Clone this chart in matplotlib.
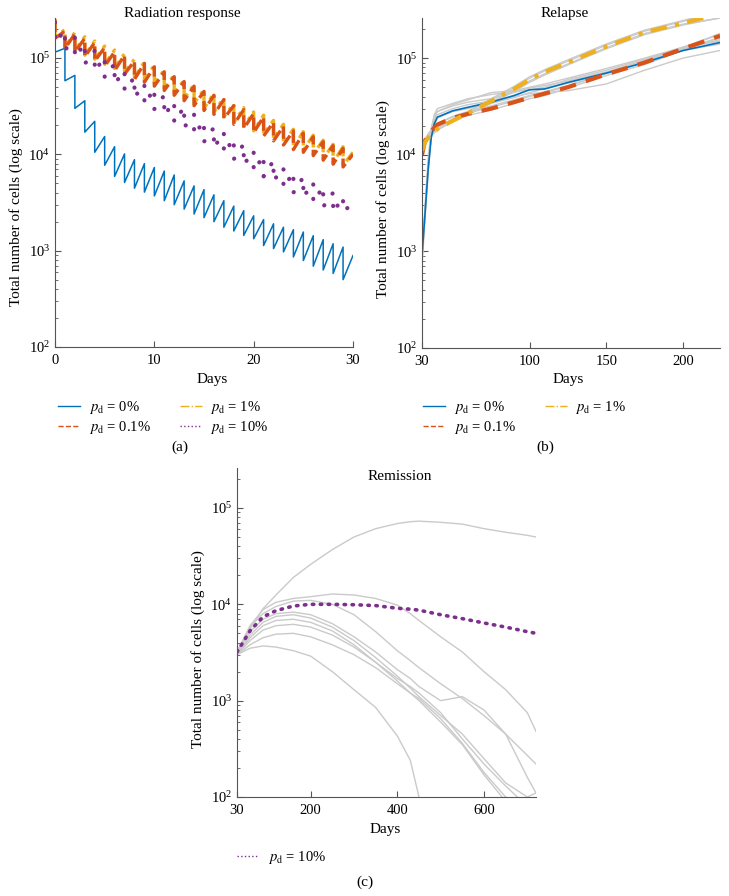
import numpy as np
import matplotlib
matplotlib.use('Agg')
import matplotlib.pyplot as plt
from matplotlib.lines import Line2D
from matplotlib.ticker import LogLocator, LogFormatterMathtext, NullFormatter, FixedLocator

plt.rcParams['font.family'] = ['Liberation Serif', 'DejaVu Serif']
plt.rcParams['mathtext.fontset'] = 'stix'

BLUE = '#0072BD'
ORANGE = '#D95319'
YELLOW = '#EDB120'
PURPLE = '#7E2F8E'
GRAY = '#CACACA'

# ---------------- Panel (a): radiation response ----------------
rad_days = list(range(0, 31))
# value just before the daily dose (days 0..29) + final value at day 30
pd0_pre = [1.64e5, 1.26e5, 6.6e4, 3.6e4, 2.2e4, 1.53e4, 1.2e4, 1.01e4, 8.8e3, 8.0e3,
           7.3e3, 6.7e3, 6.1e3, 5.3e3, 4.7e3, 4.3e3, 3.8e3, 3.3e3, 2.9e3, 2.6e3,
           2.3e3, 2.1e3, 1.9e3, 1.75e3, 1.65e3, 1.56e3, 1.43e3, 1.3e3, 1.18e3, 1.09e3, 8.9e2]
# value just after the daily dose (days 0..29)
pd0_post = [1.15e5, 5.8e4, 3.0e4, 1.7e4, 1.05e4, 7.7e3, 5.9e3, 5.1e3, 4.45e3, 4.05e3,
            3.7e3, 3.3e3, 3.0e3, 2.7e3, 2.4e3, 2.2e3, 2.0e3, 1.75e3, 1.6e3, 1.44e3,
            1.33e3, 1.13e3, 1.05e3, 9.7e2, 8.6e2, 7.9e2, 6.9e2, 6.3e2, 5.8e2, 5.0e2]

pd01_pre = [2.5e5, 1.9e5, 1.78e5, 1.6e5, 1.45e5, 1.28e5, 1.16e5, 1.07e5, 9.3e4, 8.8e4,
            8.1e4, 7.2e4, 6.4e4, 5.7e4, 5.1e4, 4.5e4, 4.1e4, 3.7e4, 3.2e4, 2.9e4,
            2.65e4, 2.45e4, 2.15e4, 1.95e4, 1.75e4, 1.65e4, 1.52e4, 1.35e4, 1.23e4, 1.15e4, 1.0e4]
pd01_post = [1.6e5, 1.25e5, 1.15e5, 1.03e5, 9.3e4, 8.2e4, 7.4e4, 6.8e4, 6.0e4, 5.6e4,
             5.1e4, 4.6e4, 4.1e4, 3.6e4, 3.2e4, 2.85e4, 2.6e4, 2.35e4, 2.05e4, 1.85e4,
             1.68e4, 1.55e4, 1.38e4, 1.25e4, 1.12e4, 1.05e4, 9.7e3, 8.7e3, 7.9e3, 7.4e3]

pd1_pre = [2.55e5, 1.97e5, 1.84e5, 1.66e5, 1.5e5, 1.33e5, 1.21e5, 1.11e5, 9.7e4, 9.1e4,
           8.4e4, 7.5e4, 6.7e4, 5.9e4, 5.3e4, 4.7e4, 4.3e4, 3.85e4, 3.35e4, 3.05e4,
           2.75e4, 2.55e4, 2.25e4, 2.05e4, 1.82e4, 1.72e4, 1.58e4, 1.4e4, 1.27e4, 1.2e4, 1.05e4]
pd1_post = [1.65e5, 1.3e5, 1.2e5, 1.07e5, 9.7e4, 8.6e4, 7.8e4, 7.1e4, 6.3e4, 5.9e4,
            5.4e4, 4.8e4, 4.3e4, 3.8e4, 3.4e4, 3.0e4, 2.75e4, 2.45e4, 2.15e4, 1.95e4,
            1.75e4, 1.62e4, 1.45e4, 1.3e4, 1.17e4, 1.1e4, 1.01e4, 9.0e3, 8.2e3, 7.7e3]

pd10_pre = [2.34e5, 1.92e5, 1.64e5, 1.4e5, 1.19e5, 1.02e5, 8.7e4, 7.4e4, 6.3e4, 5.4e4,
            4.8e4, 4.1e4, 3.5e4, 3.1e4, 2.6e4, 2.2e4, 1.9e4, 1.7e4, 1.45e4, 1.28e4,
            1.09e4, 9.7e3, 8.6e3, 7.3e3, 6.5e3, 5.8e3, 5.1e3, 4.6e3, 4.0e3, 3.6e3, 3.0e3]
pd10_post = [1.45e5, 1.2e5, 1.02e5, 8.7e4, 7.3e4, 6.3e4, 5.4e4, 4.6e4, 3.9e4, 3.3e4,
             2.95e4, 2.55e4, 2.15e4, 1.9e4, 1.6e4, 1.35e4, 1.17e4, 1.03e4, 8.9e3, 7.8e3,
             6.7e3, 5.9e3, 5.3e3, 4.5e3, 4.0e3, 3.6e3, 3.2e3, 2.85e3, 2.5e3, 2.6e3]

# ---------------- Panel (b): relapse ----------------
relapse_days = [30, 32, 34, 36, 38, 40, 50, 60, 75, 90, 100, 110, 125, 150, 175, 200, 224]
rel_pd0 = [9e2, 2.5e3, 7.0e3, 1.5e4, 2.1e4, 2.45e4, 2.85e4, 3.1e4, 3.5e4, 4.1e4, 4.7e4, 4.8e4, 5.6e4, 7.0e4, 9.0e4, 1.2e5, 1.45e5]
rel_pd01 = [1.0e4, 1.4e4, 1.6e4, 1.75e4, 1.9e4, 2.05e4, 2.4e4, 2.65e4, 3.0e4, 3.5e4, 3.9e4, 4.3e4, 5.0e4, 6.8e4, 9.0e4, 1.25e5, 1.7e5]
rel_pd1 = [1.1e4, 1.35e4, 1.5e4, 1.62e4, 1.72e4, 1.85e4, 2.25e4, 2.7e4, 3.6e4, 4.8e4, 6.0e4, 7.2e4, 9.0e4, 1.32e5, 1.85e5, 2.3e5, 2.9e5]
rel_runs = [
    [8e2, 3.0e3, 9.0e3, 1.9e4, 2.5e4, 2.8e4, 3.2e4, 3.5e4, 3.8e4, 4.4e4, 4.9e4, 5.2e4, 5.8e4, 7.2e4, 9.5e4, 1.25e5, 1.55e5],
    [7e2, 2.2e3, 6.5e3, 1.6e4, 2.4e4, 2.8e4, 3.3e4, 3.7e4, 4.4e4, 4.6e4, 5.0e4, 5.4e4, 6.2e4, 7.8e4, 1.0e5, 1.3e5, 1.6e5],
    [9e2, 2.8e3, 8.0e3, 1.7e4, 2.3e4, 2.6e4, 3.0e4, 3.3e4, 3.6e4, 4.0e4, 4.3e4, 4.4e4, 4.6e4, 5.4e4, 7.5e4, 1.0e5, 1.2e5],
    [1e3, 2.6e3, 7.5e3, 1.5e4, 2.0e4, 2.4e4, 2.8e4, 3.0e4, 3.4e4, 3.9e4, 4.4e4, 4.8e4, 5.5e4, 7.0e4, 9.2e4, 1.2e5, 1.4e5],
    [8e2, 2.4e3, 7.8e3, 1.8e4, 2.6e4, 3.0e4, 3.4e4, 3.8e4, 4.2e4, 4.5e4, 4.7e4, 5.0e4, 6.0e4, 7.5e4, 9.8e4, 1.28e5, 1.5e5],
    [1.0e4, 1.45e4, 1.65e4, 1.8e4, 1.95e4, 2.1e4, 2.5e4, 2.8e4, 3.2e4, 3.7e4, 4.1e4, 4.5e4, 5.2e4, 7.0e4, 9.4e4, 1.3e5, 1.75e5],
    [1.0e4, 1.35e4, 1.55e4, 1.7e4, 1.85e4, 2.0e4, 2.3e4, 2.55e4, 2.9e4, 3.4e4, 3.8e4, 4.1e4, 4.9e4, 6.6e4, 8.6e4, 1.2e5, 1.65e5],
    [1.0e4, 1.4e4, 1.62e4, 1.78e4, 1.92e4, 2.1e4, 2.45e4, 2.7e4, 3.1e4, 3.6e4, 4.0e4, 4.4e4, 5.1e4, 6.9e4, 9.2e4, 1.28e5, 1.8e5],
    [1.1e4, 1.4e4, 1.55e4, 1.67e4, 1.78e4, 1.9e4, 2.3e4, 2.8e4, 3.8e4, 5.1e4, 6.4e4, 7.6e4, 9.6e4, 1.4e5, 1.95e5, 2.45e5, 3.1e5],
    [1.1e4, 1.3e4, 1.45e4, 1.57e4, 1.68e4, 1.8e4, 2.2e4, 2.6e4, 3.4e4, 4.5e4, 5.6e4, 6.7e4, 8.5e4, 1.25e5, 1.75e5, 2.2e5, 2.6e5],
    [1.1e4, 1.38e4, 1.52e4, 1.64e4, 1.76e4, 1.9e4, 2.3e4, 2.75e4, 3.7e4, 4.9e4, 6.2e4, 7.4e4, 9.3e4, 1.36e5, 1.9e5, 2.4e5, 3.0e5],
    [1.1e4, 1.33e4, 1.48e4, 1.6e4, 1.7e4, 1.82e4, 2.2e4, 2.65e4, 3.5e4, 4.7e4, 5.8e4, 6.9e4, 8.7e4, 1.28e5, 1.8e5, 2.25e5, 2.6e5],
]

# ---------------- Panel (c): remission ----------------
rem_days = [30, 60, 90, 120, 160, 200, 250, 300, 350, 400, 430, 450, 500, 550, 600, 650, 700, 720]
rem_pd10 = [3.2e3, 5.3e3, 7.4e3, 8.6e3, 9.6e3, 1.0e4, 1.0e4, 9.9e3, 9.7e3, 9.1e3, 8.9e3, 8.7e3, 7.8e3, 7.1e3, 6.4e3, 5.8e3, 5.2e3, 5.0e3]
rem_runs = [
    [3.3e3, 5.5e3, 9.0e3, 1.25e4, 1.9e4, 2.6e4, 3.7e4, 5.0e4, 6.1e4, 6.9e4, 7.2e4, 7.3e4, 7.1e4, 6.8e4, 6.1e4, 5.6e4, 5.2e4, 5.0e4],
    [3.2e3, 6.0e3, 8.8e3, 1.05e4, 1.15e4, 1.2e4, 1.28e4, 1.25e4, 1.15e4, 9.8e3, 8.0e3, 6.8e3, 4.6e3, 3.2e3, 2.0e3, 1.3e3, 7.5e2, 4.8e2],
    [3.2e3, 5.8e3, 8.0e3, 9.5e3, 1.08e4, 1.1e4, 1.0e4, 7.8e3, 5.2e3, 3.3e3, 2.6e3, 2.2e3, 1.5e3, 1.05e3, 7.0e2, 4.5e2, 2.7e2, 2.2e2],
    [3.1e3, 5.2e3, 7.0e3, 8.0e3, 8.3e3, 7.8e3, 6.3e3, 4.6e3, 3.2e3, 2.1e3, 1.7e3, 1.4e3, 1.0e3, 1.1e3, 8.0e2, 4.5e2, 1.6e2, 1.1e2],
    [3.0e3, 4.8e3, 6.5e3, 7.5e3, 7.8e3, 7.2e3, 5.8e3, 4.2e3, 2.8e3, 1.8e3, 1.35e3, 1.1e3, 7.0e2, 4.5e2, 2.5e2, 1.4e2, 1.0e2, 1.1e2],
    [3.0e3, 4.5e3, 6.0e3, 6.8e3, 7.0e3, 6.5e3, 5.3e3, 3.8e3, 2.5e3, 1.6e3, 1.2e3, 1.0e3, 6.0e2, 3.5e2, 1.7e2, 9.0e1, 6.0e1, 5.0e1],
    [3.0e3, 4.2e3, 5.4e3, 6.0e3, 6.2e3, 5.8e3, 4.8e3, 3.6e3, 2.5e3, 1.7e3, 1.4e3, 1.2e3, 7.5e2, 4.0e2, 2.2e2, 1.3e2, 8.0e1, 7.0e1],
    [3.0e3, 3.8e3, 4.5e3, 4.9e3, 5.0e3, 4.6e3, 3.8e3, 3.0e3, 2.2e3, 1.5e3, 1.2e3, 1.05e3, 6.5e2, 3.6e2, 1.8e2, 1.0e2, 8.0e1, 6.0e1],
    [3.0e3, 3.5e3, 3.7e3, 3.6e3, 3.3e3, 2.9e3, 2.0e3, 1.3e3, 8.5e2, 4.3e2, 2.4e2, 1.0e2, 4.0e1, 3.0e1, 3.0e1, 3.0e1, 3.0e1, 3.0e1],
]

YLIM = (1e2, 2.6e5)


def sawtooth(days, pre, post):
    t, v = [], []
    for i in range(len(post)):
        t += [days[i], days[i]]
        v += [pre[i], post[i]]
    t.append(days[len(post)])
    v.append(pre[len(post)])
    return t, v


def style_axes(ax, xlim, xticks):
    ax.set_yscale('log')
    ax.set_ylim(*YLIM)
    ax.set_xlim(*xlim)
    ax.set_xticks(xticks)
    ax.yaxis.set_major_locator(FixedLocator([1e2, 1e3, 1e4, 1e5]))
    ax.yaxis.set_major_formatter(LogFormatterMathtext())
    ax.yaxis.set_minor_locator(LogLocator(base=10, subs=np.arange(2, 10)))
    ax.yaxis.set_minor_formatter(NullFormatter())
    for s in ['top', 'right']:
        ax.spines[s].set_visible(False)
    for s in ['left', 'bottom']:
        ax.spines[s].set_color('#555555')
        ax.spines[s].set_linewidth(0.8)
    ax.tick_params(which='both', direction='in', colors='#555555', labelcolor='black',
                   labelsize=10.5)
    ax.tick_params(which='major', length=4)
    ax.tick_params(which='minor', length=2.5)
    ax.tick_params(axis='x', pad=5)


fig = plt.figure(figsize=(7.29, 8.96), dpi=100)
W, H = 729, 896


def fx(x):
    return x / W


def fy(y):
    return 1 - y / H


ax_a = fig.add_axes([fx(55), fy(347), fx(298), (347 - 18) / H])
ax_b = fig.add_axes([fx(422), fy(348), fx(298), (348 - 18) / H])
ax_c = fig.add_axes([fx(237), fy(797), fx(299), (797 - 468) / H])

# Panel a
t, v = sawtooth(rad_days, pd0_pre, pd0_post)
ax_a.plot(t, v, color=BLUE, lw=1.1)
t, v = sawtooth(rad_days, pd1_pre, pd1_post)
ax_a.plot(t, v, color=YELLOW, lw=2.4, ls='-.')
t, v = sawtooth(rad_days, pd01_pre, pd01_post)
ax_a.plot(t, v, color=ORANGE, lw=2.4, ls='--')
t, v = sawtooth(rad_days, pd10_pre, pd10_post)
ax_a.plot(t, v, color=PURPLE, lw=3.0, ls=(0, (0.05, 3.4)), dash_capstyle='round')
style_axes(ax_a, (0, 30), [0, 10, 20, 30])

# Panel b
for run in rel_runs:
    ax_b.plot(relapse_days, run, color=GRAY, lw=1.0)
ax_b.plot(relapse_days, rel_pd0, color=BLUE, lw=1.2)
ax_b.plot(relapse_days, rel_pd01, color=ORANGE, lw=3.0, ls=(0, (4, 2.5)))
ax_b.plot(relapse_days, rel_pd1, color=YELLOW, lw=3.0, ls=(0, (4, 2, 1, 2)))
style_axes(ax_b, (30, 224), [30, 100, 150, 200])

# Panel c
for run in rem_runs:
    ax_c.plot(rem_days, run, color=GRAY, lw=1.0)
ax_c.plot(rem_days, rem_pd10, color=PURPLE, lw=2.6, ls=(0, (0.4, 1.8)), dash_capstyle='round')
style_axes(ax_c, (30, 720), [30, 200, 400, 600])

# Texts
fs = 11
fig.text(fx(182), fy(14), 'Radiation response', ha='center', va='center', fontsize=fs)
fig.text(fx(565), fy(14), 'Relapse', ha='center', va='center', fontsize=fs)
fig.text(fx(400), fy(476), 'Remission', ha='center', va='center', fontsize=fs)
ylab = 'Total number of cells (log scale)'
fig.text(fx(16), fy(207), ylab, rotation=90, ha='center', va='center', fontsize=fs)
fig.text(fx(383), fy(199), ylab, rotation=90, ha='center', va='center', fontsize=fs)
fig.text(fx(198), fy(649), ylab, rotation=90, ha='center', va='center', fontsize=fs)
fig.text(fx(212), fy(379), 'Days', ha='center', va='center', fontsize=fs)
fig.text(fx(568), fy(379), 'Days', ha='center', va='center', fontsize=fs)
fig.text(fx(385), fy(829), 'Days', ha='center', va='center', fontsize=fs)
fig.text(fx(180), fy(447), '(a)', ha='center', va='center', fontsize=fs)
fig.text(fx(545), fy(447), '(b)', ha='center', va='center', fontsize=fs)
fig.text(fx(365), fy(882), '(c)', ha='center', va='center', fontsize=fs)

# Legends
lab = [r'$p_{\rm d}$ = 0%', r'$p_{\rm d}$ = 0.1%', r'$p_{\rm d}$ = 1%', r'$p_{\rm d}$ = 10%']
h = [Line2D([], [], color=BLUE, lw=1.0),
     Line2D([], [], color=ORANGE, lw=1.0, ls='--'),
     Line2D([], [], color=YELLOW, lw=1.0, ls='-.'),
     Line2D([], [], color=PURPLE, lw=1.0, ls=':')]
leg_kw = dict(frameon=False, fontsize=10.5, handlelength=1.5, handletextpad=0.6,
              columnspacing=2.0, labelspacing=0.2, borderpad=0, borderaxespad=0,
              loc='upper left', bbox_transform=fig.transFigure)
fig.legend(h, lab, ncol=2, bbox_to_anchor=(fx(58), fy(399)), **leg_kw)
fig.legend(h[:3], lab[:3], ncol=2, bbox_to_anchor=(fx(423), fy(399)), **leg_kw)
fig.legend(h[3:], lab[3:], ncol=1, bbox_to_anchor=(fx(237), fy(849)), **leg_kw)

fig.savefig('out.png', dpi=100)
